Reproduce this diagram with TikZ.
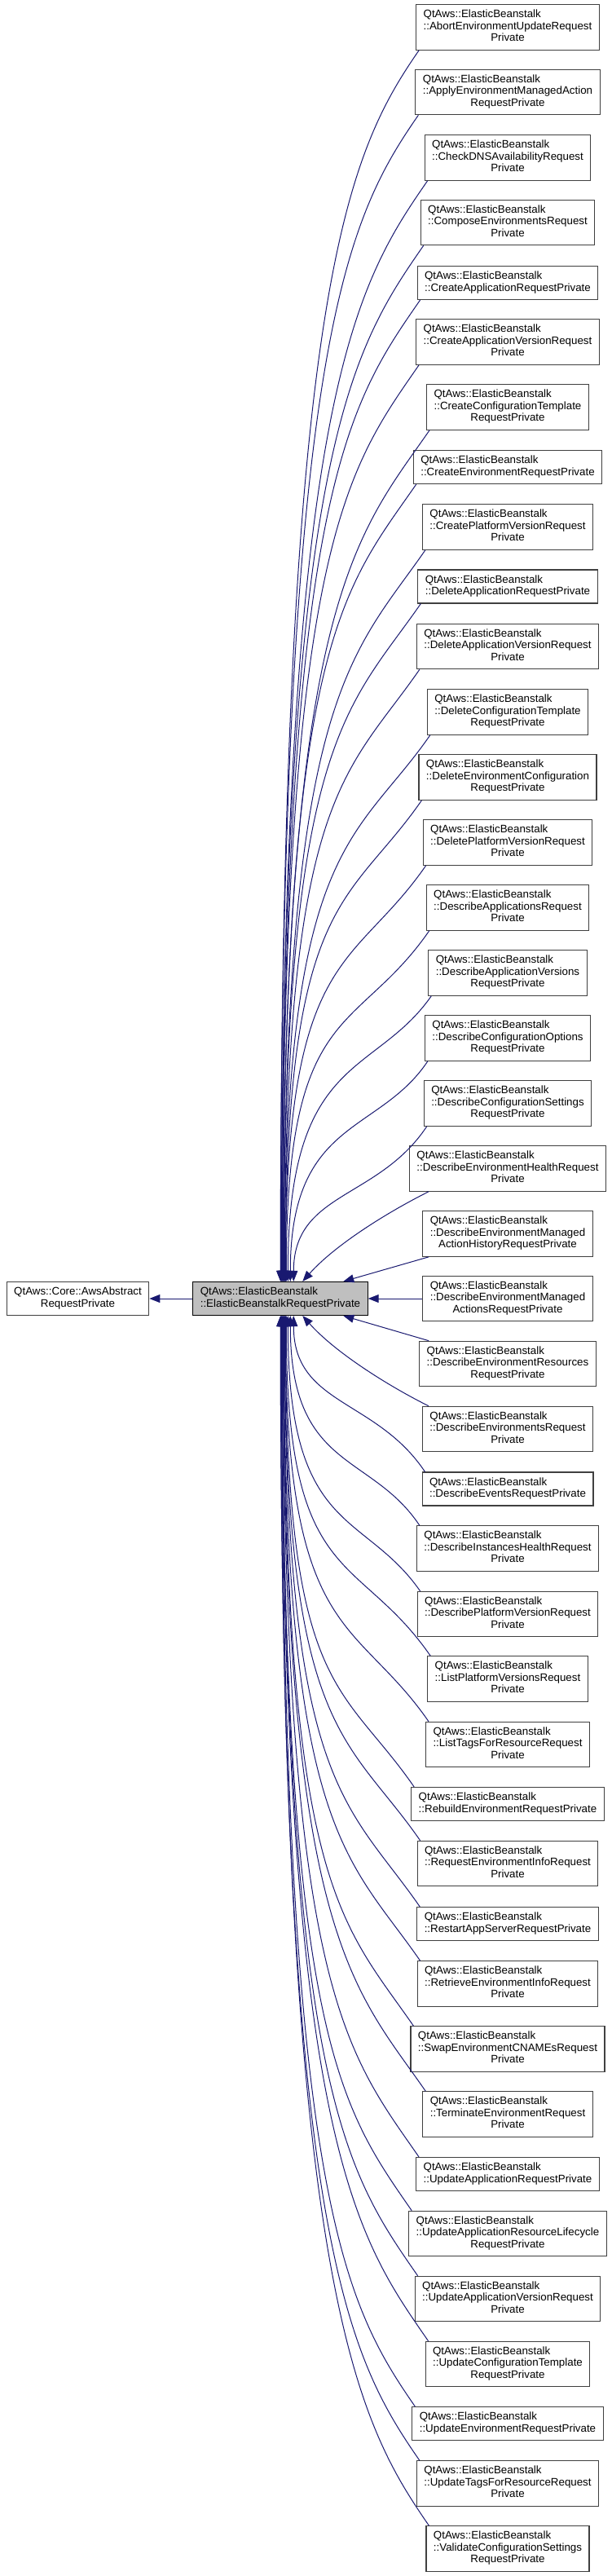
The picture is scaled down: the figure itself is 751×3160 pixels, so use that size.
\documentclass[tikz,border=0pt]{standalone}
\usepackage{fontspec}
\setmainfont{Liberation Sans}
\usetikzlibrary{arrows.meta}

\definecolor{edgeblue}{RGB}{25,25,112}
\newcommand{\nodefont}{\fontsize{13.33}{14.5}\selectfont}
% all lines but the last are left aligned, the last one is centred
\newcommand{\twoline}[2]{\begin{tabular}{@{}l@{}}#1\\\multicolumn{1}{@{}c@{}}{#2}\end{tabular}}
\newcommand{\threeline}[3]{\begin{tabular}{@{}l@{}}#1\\#2\\\multicolumn{1}{@{}c@{}}{#3}\end{tabular}}

\begin{document}
\begin{tikzpicture}[x=1pt, y=-1pt,
    cls/.style={draw=black!75, fill=white, line width=1.1pt, inner xsep=9pt, inner ysep=6pt, font=\nodefont},
    cur/.style={cls, draw=black, fill=black!25},
    inherit/.style={edgeblue, line width=1pt, -{Triangle[length=13pt, width=10pt]}},
]
\useasboundingbox (0,0) rectangle (751,3160);

% =============================================================================
% Base classes
% =============================================================================
\node[cls] (awsReq) at (95.5,1593) {\twoline{QtAws::Core::AwsAbstract}{RequestPrivate}};
\node[cur] (ebReq) at (344,1593) {\twoline{QtAws::ElasticBeanstalk}{::ElasticBeanstalkRequestPrivate}};

\draw[inherit] (ebReq) -- (awsReq);

% =============================================================================
% Derived request classes
% =============================================================================
\node[cls] (abort) at (623,33.5) {\threeline{QtAws::ElasticBeanstalk}{::AbortEnvironmentUpdateRequest}{Private}};
\node[cls] (applyAction) at (623,113) {\threeline{QtAws::ElasticBeanstalk}{::ApplyEnvironmentManagedAction}{RequestPrivate}};
\node[cls] (checkDns) at (623,193.5) {\threeline{QtAws::ElasticBeanstalk}{::CheckDNSAvailabilityRequest}{Private}};
\node[cls] (compose) at (623,273) {\threeline{QtAws::ElasticBeanstalk}{::ComposeEnvironmentsRequest}{Private}};
\node[cls] (createApp) at (623,347) {\twoline{QtAws::ElasticBeanstalk}{::CreateApplicationRequestPrivate}};
\node[cls] (createAppVer) at (623,419.5) {\threeline{QtAws::ElasticBeanstalk}{::CreateApplicationVersionRequest}{Private}};
\node[cls] (createTmpl) at (623,499.5) {\threeline{QtAws::ElasticBeanstalk}{::CreateConfigurationTemplate}{RequestPrivate}};
\node[cls] (createEnv) at (623,573) {\twoline{QtAws::ElasticBeanstalk}{::CreateEnvironmentRequestPrivate}};
\node[cls] (createPlat) at (623,646.5) {\threeline{QtAws::ElasticBeanstalk}{::CreatePlatformVersionRequest}{Private}};
\node[cls] (deleteApp) at (623,719.5) {\twoline{QtAws::ElasticBeanstalk}{::DeleteApplicationRequestPrivate}};
\node[cls] (deleteAppVer) at (623,793) {\threeline{QtAws::ElasticBeanstalk}{::DeleteApplicationVersionRequest}{Private}};
\node[cls] (deleteTmpl) at (623,873.5) {\threeline{QtAws::ElasticBeanstalk}{::DeleteConfigurationTemplate}{RequestPrivate}};
\node[cls] (deleteEnvCfg) at (623,953.5) {\threeline{QtAws::ElasticBeanstalk}{::DeleteEnvironmentConfiguration}{RequestPrivate}};
\node[cls] (deletePlat) at (623,1033.5) {\threeline{QtAws::ElasticBeanstalk}{::DeletePlatformVersionRequest}{Private}};
\node[cls] (descApps) at (623,1113.5) {\threeline{QtAws::ElasticBeanstalk}{::DescribeApplicationsRequest}{Private}};
\node[cls] (descAppVers) at (623,1193.5) {\threeline{QtAws::ElasticBeanstalk}{::DescribeApplicationVersions}{RequestPrivate}};
\node[cls] (descCfgOpt) at (623,1273.5) {\threeline{QtAws::ElasticBeanstalk}{::DescribeConfigurationOptions}{RequestPrivate}};
\node[cls] (descCfgSet) at (623,1353.5) {\threeline{QtAws::ElasticBeanstalk}{::DescribeConfigurationSettings}{RequestPrivate}};
\node[cls] (descEnvHealth) at (623,1433.5) {\threeline{QtAws::ElasticBeanstalk}{::DescribeEnvironmentHealthRequest}{Private}};
\node[cls] (descActHist) at (623,1513.5) {\threeline{QtAws::ElasticBeanstalk}{::DescribeEnvironmentManaged}{ActionHistoryRequestPrivate}};
\node[cls] (descActs) at (623,1593) {\threeline{QtAws::ElasticBeanstalk}{::DescribeEnvironmentManaged}{ActionsRequestPrivate}};
\node[cls] (descEnvRes) at (623,1673) {\threeline{QtAws::ElasticBeanstalk}{::DescribeEnvironmentResources}{RequestPrivate}};
\node[cls] (descEnvs) at (623,1753) {\threeline{QtAws::ElasticBeanstalk}{::DescribeEnvironmentsRequest}{Private}};
\node[cls] (descEvents) at (623,1826.5) {\twoline{QtAws::ElasticBeanstalk}{::DescribeEventsRequestPrivate}};
\node[cls] (descInstHealth) at (623,1899.5) {\threeline{QtAws::ElasticBeanstalk}{::DescribeInstancesHealthRequest}{Private}};
\node[cls] (descPlat) at (623,1980) {\threeline{QtAws::ElasticBeanstalk}{::DescribePlatformVersionRequest}{Private}};
\node[cls] (listPlat) at (623,2059.5) {\threeline{QtAws::ElasticBeanstalk}{::ListPlatformVersionsRequest}{Private}};
\node[cls] (listTags) at (623,2140) {\threeline{QtAws::ElasticBeanstalk}{::ListTagsForResourceRequest}{Private}};
\node[cls] (rebuildEnv) at (623,2213) {\twoline{QtAws::ElasticBeanstalk}{::RebuildEnvironmentRequestPrivate}};
\node[cls] (requestInfo) at (623,2286) {\threeline{QtAws::ElasticBeanstalk}{::RequestEnvironmentInfoRequest}{Private}};
\node[cls] (restartApp) at (623,2360) {\twoline{QtAws::ElasticBeanstalk}{::RestartAppServerRequestPrivate}};
\node[cls] (retrieveInfo) at (623,2433.5) {\threeline{QtAws::ElasticBeanstalk}{::RetrieveEnvironmentInfoRequest}{Private}};
\node[cls] (swapCnames) at (623,2513.5) {\threeline{QtAws::ElasticBeanstalk}{::SwapEnvironmentCNAMEsRequest}{Private}};
\node[cls] (terminateEnv) at (623,2593.5) {\threeline{QtAws::ElasticBeanstalk}{::TerminateEnvironmentRequest}{Private}};
\node[cls] (updateApp) at (623,2667) {\twoline{QtAws::ElasticBeanstalk}{::UpdateApplicationRequestPrivate}};
\node[cls] (updateLifecycle) at (623,2740) {\threeline{QtAws::ElasticBeanstalk}{::UpdateApplicationResourceLifecycle}{RequestPrivate}};
\node[cls] (updateAppVer) at (623,2820) {\threeline{QtAws::ElasticBeanstalk}{::UpdateApplicationVersionRequest}{Private}};
\node[cls] (updateTmpl) at (623,2900) {\threeline{QtAws::ElasticBeanstalk}{::UpdateConfigurationTemplate}{RequestPrivate}};
\node[cls] (updateEnv) at (623,2973) {\twoline{QtAws::ElasticBeanstalk}{::UpdateEnvironmentRequestPrivate}};
\node[cls] (updateTags) at (623,3046.5) {\threeline{QtAws::ElasticBeanstalk}{::UpdateTagsForResourceRequest}{Private}};
\node[cls] (validateCfg) at (623,3126.5) {\threeline{QtAws::ElasticBeanstalk}{::ValidateConfigurationSettings}{RequestPrivate}};

% =============================================================================
% Inheritance edges, upper half (into the top of the base)
% =============================================================================
\draw[inherit] ([xshift=4pt]abort.south west) .. controls +(-90,130) and +(0,-1210) .. ([xshift=108pt]ebReq.north west);
\draw[inherit] ([xshift=4pt]applyAction.south west) .. controls +(-90,130) and +(0,-1145) .. ([xshift=108pt]ebReq.north west);
\draw[inherit] ([xshift=4pt]checkDns.south west) .. controls +(-90,130) and +(0,-1080) .. ([xshift=109pt]ebReq.north west);
\draw[inherit] ([xshift=4pt]compose.south west) .. controls +(-90,130) and +(0,-1015) .. ([xshift=109pt]ebReq.north west);
\draw[inherit] ([xshift=4pt]createApp.south west) .. controls +(-90,130) and +(0,-965) .. ([xshift=110pt]ebReq.north west);
\draw[inherit] ([xshift=4pt]createAppVer.south west) .. controls +(-90,130) and +(0,-900) .. ([xshift=110pt]ebReq.north west);
\draw[inherit] ([xshift=4pt]createTmpl.south west) .. controls +(-90,130) and +(0,-835) .. ([xshift=111pt]ebReq.north west);
\draw[inherit] ([xshift=4pt]createEnv.south west) .. controls +(-90,130) and +(0,-785) .. ([xshift=111pt]ebReq.north west);
\draw[inherit] ([xshift=4pt]createPlat.south west) .. controls +(-90,130) and +(0,-720) .. ([xshift=112pt]ebReq.north west);
\draw[inherit] ([xshift=4pt]deleteApp.south west) .. controls +(-90,130) and +(0,-665) .. ([xshift=112pt]ebReq.north west);
\draw[inherit] ([xshift=4pt]deleteAppVer.south west) .. controls +(-90,130) and +(0,-600) .. ([xshift=113pt]ebReq.north west);
\draw[inherit] ([xshift=4pt]deleteTmpl.south west) .. controls +(-90,130) and +(0,-540) .. ([xshift=113pt]ebReq.north west);
\draw[inherit] ([xshift=4pt]deleteEnvCfg.south west) .. controls +(-90,130) and +(0,-475) .. ([xshift=114pt]ebReq.north west);
\draw[inherit] ([xshift=4pt]deletePlat.south west) .. controls +(-90,130) and +(0,-410) .. ([xshift=114pt]ebReq.north west);
\draw[inherit] ([xshift=4pt]descApps.south west) .. controls +(-90,130) and +(0,-345) .. ([xshift=115pt]ebReq.north west);
\draw[inherit] ([xshift=4pt]descAppVers.south west) .. controls +(-70,100) and +(0,-280) .. ([xshift=117pt]ebReq.north west);
\draw[inherit] ([xshift=4pt]descCfgOpt.south west) .. controls +(-60,90) and +(0,-200) .. ([xshift=120pt]ebReq.north west);
\draw[inherit] ([xshift=4pt]descCfgSet.south west) .. controls +(-60,90) and +(0,-110) .. ([xshift=124pt]ebReq.north west);
\draw[inherit] ([xshift=24pt]descEnvHealth.south west) .. controls +(-50,25) and +(40,-45) .. ([xshift=135pt]ebReq.north west);
\draw[inherit] ([xshift=8pt]descActHist.south west) -- ([xshift=185pt]ebReq.north west);

% straight in from the right
\draw[inherit] (descActs.west) -- (ebReq.east);

% =============================================================================
% Inheritance edges, lower half (into the bottom of the base)
% =============================================================================
\draw[inherit] ([xshift=12pt]descEnvRes.north west) -- ([xshift=185pt]ebReq.south west);
\draw[inherit] ([xshift=8pt]descEnvs.north west) .. controls +(-50,-25) and +(40,45) .. ([xshift=135pt]ebReq.south west);
\draw[inherit] ([xshift=4pt]descEvents.north west) .. controls +(-60,-90) and +(0,110) .. ([xshift=124pt]ebReq.south west);
\draw[inherit] ([xshift=4pt]descInstHealth.north west) .. controls +(-60,-90) and +(0,190) .. ([xshift=120pt]ebReq.south west);
\draw[inherit] ([xshift=4pt]descPlat.north west) .. controls +(-70,-100) and +(0,270) .. ([xshift=117pt]ebReq.south west);
\draw[inherit] ([xshift=4pt]listPlat.north west) .. controls +(-90,-130) and +(0,335) .. ([xshift=115pt]ebReq.south west);
\draw[inherit] ([xshift=4pt]listTags.north west) .. controls +(-90,-130) and +(0,400) .. ([xshift=114pt]ebReq.south west);
\draw[inherit] ([xshift=4pt]rebuildEnv.north west) .. controls +(-90,-130) and +(0,465) .. ([xshift=114pt]ebReq.south west);
\draw[inherit] ([xshift=4pt]requestInfo.north west) .. controls +(-90,-130) and +(0,515) .. ([xshift=113pt]ebReq.south west);
\draw[inherit] ([xshift=4pt]restartApp.north west) .. controls +(-90,-130) and +(0,580) .. ([xshift=113pt]ebReq.south west);
\draw[inherit] ([xshift=4pt]retrieveInfo.north west) .. controls +(-90,-130) and +(0,635) .. ([xshift=112pt]ebReq.south west);
\draw[inherit] ([xshift=4pt]swapCnames.north west) .. controls +(-90,-130) and +(0,700) .. ([xshift=112pt]ebReq.south west);
\draw[inherit] ([xshift=4pt]terminateEnv.north west) .. controls +(-90,-130) and +(0,760) .. ([xshift=111pt]ebReq.south west);
\draw[inherit] ([xshift=4pt]updateApp.north west) .. controls +(-90,-130) and +(0,825) .. ([xshift=111pt]ebReq.south west);
\draw[inherit] ([xshift=4pt]updateLifecycle.north west) .. controls +(-90,-130) and +(0,880) .. ([xshift=110pt]ebReq.south west);
\draw[inherit] ([xshift=4pt]updateAppVer.north west) .. controls +(-90,-130) and +(0,945) .. ([xshift=110pt]ebReq.south west);
\draw[inherit] ([xshift=4pt]updateTmpl.north west) .. controls +(-90,-130) and +(0,1010) .. ([xshift=109pt]ebReq.south west);
\draw[inherit] ([xshift=4pt]updateEnv.north west) .. controls +(-90,-130) and +(0,1070) .. ([xshift=109pt]ebReq.south west);
\draw[inherit] ([xshift=4pt]updateTags.north west) .. controls +(-90,-130) and +(0,1125) .. ([xshift=108pt]ebReq.south west);
\draw[inherit] ([xshift=4pt]validateCfg.north west) .. controls +(-90,-130) and +(0,1190) .. ([xshift=108pt]ebReq.south west);

\end{tikzpicture}
\end{document}
